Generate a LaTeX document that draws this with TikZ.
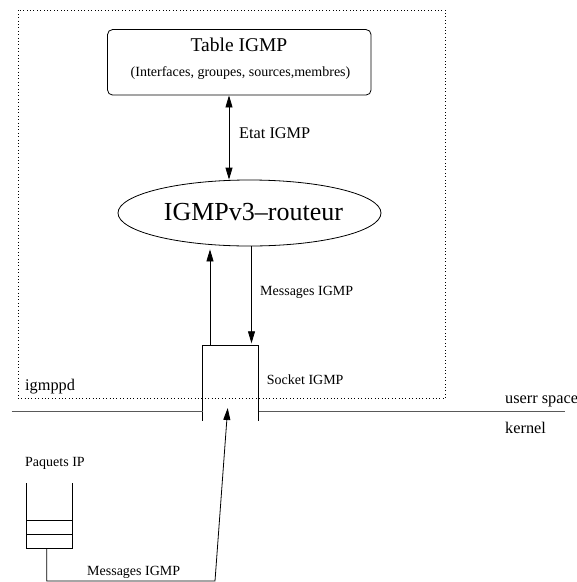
\documentclass[tikz,border=0pt]{standalone}
\usepackage{fontspec}
\setmainfont{Liberation Serif}
\usetikzlibrary{arrows.meta,shapes.geometric}
\begin{document}
\begin{tikzpicture}[x=1pt,y=-1pt,
	line/.style={black, line width=0.8pt},
	arr/.style={line, -{Triangle[length=12pt,width=7pt]}},
	lbl/.style={anchor=west, inner sep=0pt, font=\fontsize{14}{16}\selectfont},
	biglbl/.style={lbl, font=\fontsize{16.3}{18}\selectfont}]
	\useasboundingbox (0,0) rectangle (577,582);
	\draw[dash pattern=on 0.8pt off 2.6pt, line width=0.7pt] (18.3,10.4) rectangle (445.6,398.5);
	\node[draw, line, rounded corners=5pt, minimum width=263.5pt, minimum height=65.5pt] (table) at (239.3,62.3) {};
	\node[inner sep=0pt, font=\fontsize{19.5}{22}\selectfont] (titre) at (239,44.5) {Table IGMP};
	\node[inner sep=0pt, font=\fontsize{14}{16}\selectfont] (champs) at (240.5,73) {(Interfaces, groupes, sources,membres)};
	\node[ellipse, draw, line, minimum width=263pt, minimum height=66pt, inner sep=0pt] (routeur) at (249.5,213) {};
	\node[inner sep=0pt, font=\fontsize{26}{30}\selectfont] (nom) at (253.5,212) {IGMPv3--routeur};
	\draw[line, {Triangle[length=12pt,width=7pt]}-{Triangle[length=12pt,width=7pt]}] ([xshift=-10.3pt]table.south) -- ([xshift=-20.5pt]routeur.north);
	\node[biglbl] (etat) at (239,133.5) {Etat IGMP};
	\node[minimum width=55.5pt, minimum height=75.2pt, inner sep=0pt] (socket) at (230.7,383.1) {};
	\draw[line] (socket.south west) -- (socket.north west) -- (socket.north east) -- (socket.south east);
	\coordinate (up) at ([xshift=-20.7pt]socket.north);
	\coordinate (down) at ([xshift=20.8pt]socket.north);
	\draw[arr, shorten >=3pt] (up) -- (up |- routeur.south);
	\draw[arr, shorten >=2pt] (down |- routeur.south) -- (down);
	\node[lbl] (msg) at (260,292) {Messages IGMP};
	\node[lbl] (sock) at (266.7,380) {Socket IGMP};
	\coordinate (gauche) at (11.7,411.5);
	\coordinate (droite) at (565,411.5);
	\draw[line, black!65, line width=1.2pt] (gauche) -- (gauche -| socket.west);
	\draw[line, black!65, line width=1.2pt] (socket.east |- droite) -- (droite);
	\node[biglbl] (igmppd) at (25,387) {igmppd};
	\node[biglbl] (user) at (505,401) {userr space};
	\node[biglbl] (kernel) at (505,428) {kernel};
	\node[lbl] (paquets) at (25,463) {Paquets IP};
	\node[draw, line, minimum width=45.3pt, minimum height=28pt, inner sep=0pt] (file) at (49.3,534) {};
	\draw[line] (file.west) -- (file.east);
	\draw[line] (file.north west) -- ++(0,-37);
	\draw[line] (file.north east) -- ++(0,-37);
	\coordinate (coude) at (215,581);
	\coordinate (entree) at (227.7,408);
	\draw[arr] ([xshift=-2.6pt]file.south) |- (coude) -- (entree);
	\node[lbl] (msg2) at (87,572) {Messages IGMP};
\end{tikzpicture}
\end{document}
